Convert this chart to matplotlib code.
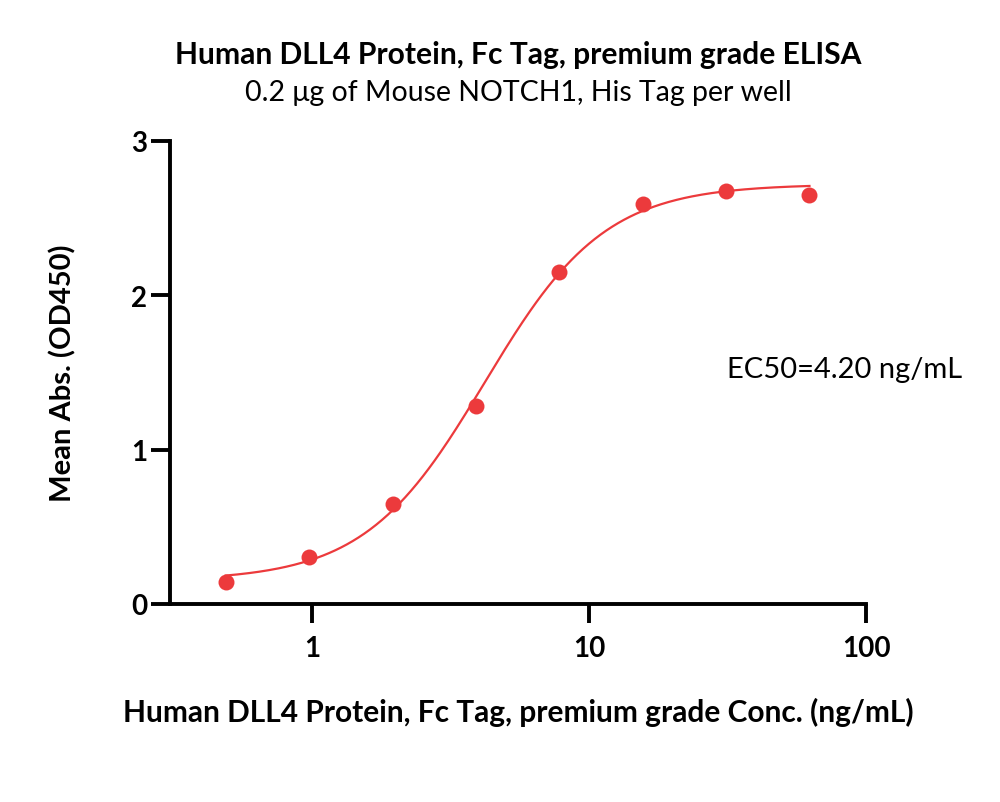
import numpy as np
import matplotlib
matplotlib.use("Agg")
import matplotlib.pyplot as plt

# Data
conc = [0.488, 0.977, 1.953, 3.906, 7.8125, 15.625, 31.25, 62.5]
od450 = [0.143, 0.305, 0.648, 1.283, 2.152, 2.592, 2.677, 2.651]

# 4PL fit parameters
fit_bottom = 0.15
fit_top = 2.72
fit_ec50 = 4.20
fit_hill = 2.0

title = "Human DLL4 Protein, Fc Tag, premium grade ELISA"
subtitle = "0.2 \u03bcg of Mouse NOTCH1, His Tag per well"
xlabel = "Human DLL4 Protein, Fc Tag, premium grade Conc. (ng/mL)"
ylabel = "Mean Abs. (OD450)"
ec50_text = "EC50=4.20 ng/mL"
xticks = [1, 10, 100]
xticklabels = ["1", "10", "100"]
yticks = [0, 1, 2, 3]

plt.rcParams['font.family'] = ['Lato', 'DejaVu Sans']
red = '#EC3A3C'

fig = plt.figure(figsize=(10, 8.03), dpi=100)
ax = fig.add_axes([0.17, 0.2466, 0.696, 0.5766])

xs = np.logspace(np.log10(conc[0]), np.log10(conc[-1]), 300)
ys = fit_bottom + (fit_top - fit_bottom) / (1 + (fit_ec50 / xs) ** fit_hill)
ax.plot(xs, ys, color=red, lw=1.6, zorder=2)
ax.plot(conc, od450, 'o', color=red, ms=11.5, mec='none', zorder=3)

ax.set_xscale('log')
ax.set_xlim(0.307, 100)
ax.set_ylim(0, 3)
ax.set_xticks(xticks)
ax.set_xticklabels(xticklabels)
ax.xaxis.set_minor_locator(matplotlib.ticker.NullLocator())
ax.set_yticks(yticks)

for s in ['top', 'right']:
    ax.spines[s].set_visible(False)
for s in ['left', 'bottom']:
    ax.spines[s].set_linewidth(2.8)
    ax.spines[s].set_capstyle('projecting')
ax.tick_params(axis='both', length=13.5, width=2.8, labelsize=20)
ax.tick_params(axis='x', pad=9)
ax.tick_params(axis='y', pad=3)
for lab in ax.get_xticklabels() + ax.get_yticklabels():
    lab.set_fontweight('bold')

ax.set_xlabel(xlabel, fontsize=21.5, fontweight='bold', labelpad=26)
ax.set_ylabel(ylabel, fontsize=21, fontweight='bold', labelpad=39)

fig.text(0.518, 0.931, title, ha='center', va='center', fontsize=21.6, fontweight='bold')
fig.text(0.518, 0.884, subtitle, ha='center', va='center', fontsize=20.5)
ax.text(31.5, 1.52, ec50_text, ha='left', va='center', fontsize=21)

fig.savefig('out.png', dpi=100)
